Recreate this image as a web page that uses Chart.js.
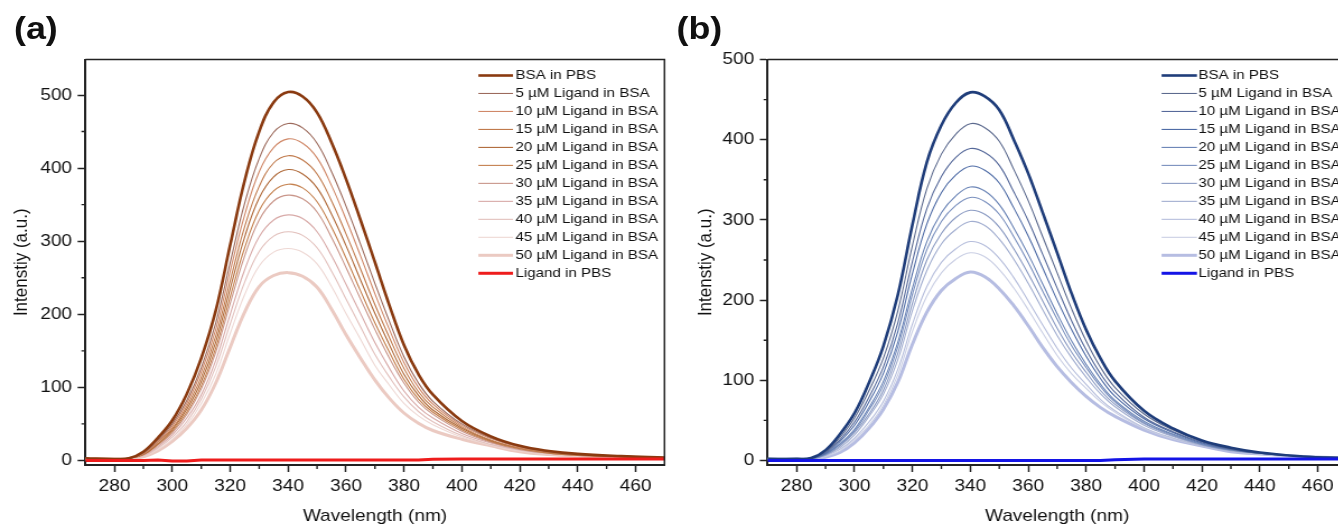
<!DOCTYPE html>
<html>
<head>
<meta charset="utf-8">
<script src="https://cdn.jsdelivr.net/npm/chart.js@4.4.0/dist/chart.umd.min.js"></script>
<style>
  html, body { margin: 0; padding: 0; background: #fff; overflow: hidden; }
  body { width: 1338px; height: 527px; position: relative; }
  /* the source figure is a little wider than tall, so stretch the whole thing */
  #wrap { position: absolute; left: 0; top: 0; width: 1195px; height: 527px; transform: scaleX(1.12); transform-origin: 0 0; }
  .panel { position: absolute; top: 0; }
  #boxA { left: 0; width: 600px; height: 527px; }
  #boxB { left: 606px; width: 603px; height: 527px; }
  .tag { position: absolute; top: 12px; font: bold 32px 'Liberation Sans', Arial, sans-serif; line-height: 32px; color: #111; }
</style>
</head>
<body>
<div id="wrap">
  <div class="tag" style="left:12.5px">(a)</div>
  <div class="tag" style="left:604px">(b)</div>
  <div id="boxA" class="panel"><canvas id="chartA" width="600" height="527"></canvas></div>
  <div id="boxB" class="panel"><canvas id="chartB" width="603" height="527"></canvas></div>
</div>
<script>
// wavelength grid (nm)
const wavelengths = [270, 280, 285, 290, 295, 300, 305, 310, 315, 320, 325, 330, 335, 340, 345, 350, 355, 360, 365, 370, 375, 380, 385, 390, 400, 410, 420, 430, 440, 455, 470];

const xTickValues = [280, 300, 320, 340, 360, 380, 400, 420, 440, 460];
const xMinorTicks = [290, 310, 330, 350, 370, 390, 410, 430, 450];
const yTickValues = [0, 100, 200, 300, 400, 500];
const yMinorTicks = [50, 150, 250, 350, 450];

const seriesLabels = ['BSA in PBS', '5 \u00b5M Ligand in BSA', '10 \u00b5M Ligand in BSA', '15 \u00b5M Ligand in BSA',
  '20 \u00b5M Ligand in BSA', '25 \u00b5M Ligand in BSA', '30 \u00b5M Ligand in BSA', '35 \u00b5M Ligand in BSA',
  '40 \u00b5M Ligand in BSA', '45 \u00b5M Ligand in BSA', '50 \u00b5M Ligand in BSA', 'Ligand in PBS'];

// panel (a)
const bsaA = [3, 2, 3, 12, 31, 55, 91, 140, 205, 295, 383, 450, 490, 504, 498, 476, 435, 385, 329, 271, 212, 158, 118, 90, 54, 33, 20, 13, 9, 6, 4];
const a5   = [3, 2, 3, 10, 28, 50, 82, 127, 188, 271, 352, 413, 449, 461, 455, 434, 395, 348, 296, 242, 190, 142, 106, 81, 50, 31, 19, 12, 8, 6, 4];
const a10  = [3, 2, 3, 9, 26, 47, 78, 121, 179, 259, 336, 395, 428, 440, 434, 414, 376, 330, 280, 228, 179, 134, 100, 77, 48, 30, 18, 12, 8, 6, 4];
const a15  = [3, 2, 3, 9, 25, 44, 74, 114, 170, 246, 320, 375, 407, 417, 411, 392, 355, 310, 262, 213, 168, 126, 94, 73, 46, 28, 17, 11, 8, 5, 4];
const a20  = [3, 2, 3, 8, 23, 42, 70, 108, 162, 235, 306, 359, 388, 398, 392, 373, 337, 294, 247, 201, 158, 118, 89, 69, 44, 27, 17, 11, 8, 5, 4];
const a25  = [3, 2, 3, 8, 22, 40, 66, 102, 154, 224, 291, 342, 369, 378, 373, 354, 319, 277, 232, 188, 148, 111, 84, 66, 42, 26, 16, 10, 7, 5, 4];
const a30  = [2, 2, 3, 8, 21, 38, 63, 98, 148, 215, 280, 329, 355, 363, 358, 340, 305, 264, 221, 179, 140, 106, 80, 63, 40, 25, 15, 10, 7, 5, 3];
const a35  = [2, 2, 3, 7, 19, 35, 58, 90, 137, 200, 261, 306, 329, 336, 331, 313, 280, 241, 201, 161, 126, 95, 73, 58, 37, 24, 15, 10, 7, 5, 3];
const a40  = [2, 2, 2, 6, 17, 32, 53, 84, 128, 187, 244, 286, 307, 313, 308, 291, 259, 221, 183, 145, 114, 87, 67, 53, 34, 22, 14, 9, 7, 4, 3];
const a45  = [2, 2, 2, 6, 15, 29, 49, 78, 118, 174, 227, 266, 285, 290, 285, 269, 238, 201, 166, 130, 103, 78, 61, 49, 32, 21, 13, 9, 6, 4, 3];
const a50  = [2, 2, 2, 5, 13, 26, 44, 69, 106, 155, 203, 238, 253, 257, 252, 237, 207, 172, 140, 110, 85, 65, 51, 41, 29, 20, 12, 8, 6, 4, 3];
const ligA = [0, 0, 0, 0, 0.5, -0.7, -0.7, 0.7, 0.7, 0.7, 0.7, 0.7, 0.7, 0.7, 0.7, 0.7, 0.7, 0.7, 0.7, 0.7, 0.7, 0.7, 0.7, 1.5, 2, 2, 2, 2, 2, 2, 2];

// panel (b)
const bsaB = [2, 2, 3, 13, 33, 59, 97, 143, 207, 294, 372, 418, 446, 459, 454, 437, 400, 358, 309, 259, 208, 163, 127, 99, 62, 40, 25, 16, 10, 5, 3];
const b5   = [2, 2, 3, 11, 29, 53, 87, 128, 187, 268, 339, 382, 407, 420, 415, 398, 363, 324, 279, 234, 189, 149, 116, 91, 58, 38, 24, 15, 10, 5, 3];
const b10  = [2, 2, 3, 10, 26, 48, 79, 117, 172, 248, 314, 354, 378, 389, 384, 368, 335, 299, 257, 215, 174, 138, 108, 85, 54, 36, 23, 14, 9, 5, 3];
const b15  = [2, 2, 3, 9, 24, 44, 73, 109, 161, 233, 295, 334, 356, 367, 362, 346, 315, 280, 240, 200, 163, 130, 102, 80, 52, 35, 22, 14, 9, 5, 3];
const b20  = [2, 2, 2, 8, 21, 39, 66, 99, 148, 215, 273, 309, 330, 341, 336, 319, 290, 257, 220, 183, 149, 120, 95, 75, 49, 33, 21, 13, 9, 5, 3];
const b25  = [2, 2, 2, 8, 20, 37, 63, 94, 142, 207, 263, 298, 318, 328, 323, 307, 279, 247, 211, 176, 143, 116, 92, 73, 47, 32, 20, 13, 9, 5, 3];
const b30  = [2, 2, 2, 7, 18, 35, 58, 88, 134, 196, 250, 283, 303, 312, 307, 291, 264, 233, 199, 165, 135, 110, 87, 70, 46, 31, 20, 13, 9, 5, 3];
const b35  = [2, 2, 2, 7, 16, 32, 55, 83, 126, 187, 237, 270, 288, 298, 293, 276, 251, 221, 188, 156, 128, 104, 83, 67, 44, 30, 19, 12, 9, 5, 3];
const b40  = [2, 2, 2, 6, 14, 28, 48, 74, 114, 170, 217, 247, 264, 273, 268, 252, 228, 199, 169, 140, 115, 95, 76, 62, 41, 28, 18, 12, 8, 5, 3];
const b45  = [2, 2, 2, 5, 12, 26, 44, 69, 107, 161, 205, 234, 251, 259, 254, 238, 215, 188, 159, 131, 108, 90, 73, 60, 40, 27, 18, 12, 8, 5, 3];
const b50  = [2, 2, 2, 4, 10, 22, 40, 64, 98, 145, 185, 212, 227, 235, 229, 214, 193, 168, 141, 117, 97, 80, 66, 55, 38, 26, 18, 11, 8, 5, 3];
const ligB = [0, 0, 0, 0, 0, 0, 0, 0, 0, 0, 0, 0, 0, 0, 0, 0, 0, 0, 0, 0, 0, 0, 0, 1, 2, 2, 2, 2, 2, 2, 2];

const coloursA = ['#8a3a10', '#9c6a5c', '#d08868', '#c07a4c', '#b06a3a', '#c4804e', '#c9968a', '#d8aaa8', '#e2c0bc', '#eed8d4', '#ebcac2', '#ee1c1c'];
const coloursB = ['#1f3d7a', '#5c6a8e', '#56699a', '#4f6ca6', '#6a84b6', '#7a90be', '#8a9ac2', '#a2aed0', '#b6bedc', '#cacfe4', '#b6bde2', '#1414e6'];
const widths = [2.6, 1.1, 1.1, 1.1, 1.1, 1.1, 1.1, 1.1, 1.1, 1.1, 3, 3];

Chart.defaults.font.family = "'Liberation Sans', Arial, sans-serif";
Chart.defaults.color = '#111';

// top/right frame and the short minor ticks
const framePlugin = {
  id: 'frame',
  afterDraw(chart) {
    const { ctx, chartArea: a, scales: { x, y } } = chart;
    ctx.save();
    ctx.strokeStyle = '#222';
    ctx.lineWidth = 1.5;
    ctx.beginPath();
    ctx.moveTo(a.left, a.top);
    ctx.lineTo(a.right, a.top);
    ctx.lineTo(a.right, a.bottom);
    ctx.stroke();
    ctx.lineWidth = 1.4;
    ctx.beginPath();
    xMinorTicks.forEach(v => {
      const px = x.getPixelForValue(v);
      ctx.moveTo(px, a.bottom);
      ctx.lineTo(px, a.bottom + 4);
    });
    yMinorTicks.forEach(v => {
      if (v > y.max) return;
      const py = y.getPixelForValue(v);
      ctx.moveTo(a.left, py);
      ctx.lineTo(a.left - 3.6, py);
    });
    ctx.stroke();
    ctx.restore();
  }
};

// legend as a plain column inside the plot, like the original
const sideLegend = {
  id: 'sideLegend',
  afterDraw(chart, args, opts) {
    const ctx = chart.ctx;
    ctx.save();
    ctx.font = "13.5px 'Liberation Sans', Arial, sans-serif";
    ctx.textBaseline = 'middle';
    ctx.fillStyle = '#111';
    chart.data.datasets.forEach((ds, i) => {
      const y = opts.y0 + i * opts.dy;
      ctx.strokeStyle = ds.borderColor;
      ctx.lineWidth = ds.borderWidth;
      ctx.beginPath();
      ctx.moveTo(opts.x1, y);
      ctx.lineTo(opts.x2, y);
      ctx.stroke();
      ctx.fillText(ds.label, opts.tx, y);
    });
    ctx.restore();
  }
};

function buildDatasets(seriesList, colours) {
  return seriesList.map((vals, i) => ({
    label: seriesLabels[i],
    data: wavelengths.map((w, j) => ({ x: w, y: vals[j] })),
    borderColor: colours[i],
    borderWidth: widths[i],
    pointRadius: 0,
    fill: false,
    tension: i === 11 ? 0 : 0.4,
    order: i === 11 ? -1 : i
  }));
}

function makeChart(id, datasets, cfg) {
  return new Chart(document.getElementById(id), {
    type: 'line',
    data: { datasets: datasets },
    options: {
      responsive: false,
      animation: false,
      layout: { padding: { left: 0, top: 59.5, right: cfg.padRight, bottom: 0 } },
      plugins: {
        legend: { display: false },
        tooltip: { enabled: false },
        sideLegend: cfg.legend
      },
      scales: {
        x: {
          type: 'linear', min: 270, max: 470,
          afterBuildTicks: s => { s.ticks = xTickValues.map(v => ({ value: v })); },
          afterFit: s => { s.height = 62; },
          grid: { display: true, drawOnChartArea: false, drawTicks: true, tickLength: 7, tickWidth: 1.5, tickColor: '#222' },
          border: { display: true, width: 2, color: '#222' },
          ticks: { padding: 4, autoSkip: false, maxRotation: 0, font: { size: 17 }, color: '#111' },
          title: { display: true, text: 'Wavelength (nm)', font: { size: 17, lineHeight: 1.2 }, color: '#111', padding: { top: 0, bottom: 0 } }
        },
        y: {
          type: 'linear', min: cfg.yMin, max: cfg.yMax,
          afterBuildTicks: s => { s.ticks = yTickValues.map(v => ({ value: v })); },
          afterFit: s => { s.width = cfg.yAxisWidth; },
          grid: { display: true, drawOnChartArea: false, drawTicks: true, tickLength: 7, tickWidth: 1.5, tickColor: '#222' },
          border: { display: true, width: 2, color: '#222' },
          ticks: { padding: 5, font: { size: 17 }, color: '#111' },
          title: { display: true, text: 'Intenstiy (a.u.)', font: { size: 17, lineHeight: 1.2 }, color: '#111', padding: { top: cfg.titlePad, bottom: 0 } }
        }
      }
    },
    plugins: [framePlugin, sideLegend]
  });
}

makeChart('chartA', buildDatasets([bsaA, a5, a10, a15, a20, a25, a30, a35, a40, a45, a50, ligA], coloursA), {
  yMin: -6.2, yMax: 548.6, yAxisWidth: 76.3, padRight: 6.7, titlePad: 9.4,
  legend: { x1: 427.1, x2: 458, tx: 460.3, y0: 75.5, dy: 17.98 }
});

makeChart('chartB', buildDatasets([bsaB, b5, b10, b15, b20, b25, b30, b35, b40, b45, b50, ligB], coloursB), {
  yMin: -5.6, yMax: 500, yAxisWidth: 79.4, padRight: 6.6, titlePad: 14.2,
  legend: { x1: 431.1, x2: 462.7, tx: 463.9, y0: 75.5, dy: 17.98 }
});
</script>
</body>
</html>
